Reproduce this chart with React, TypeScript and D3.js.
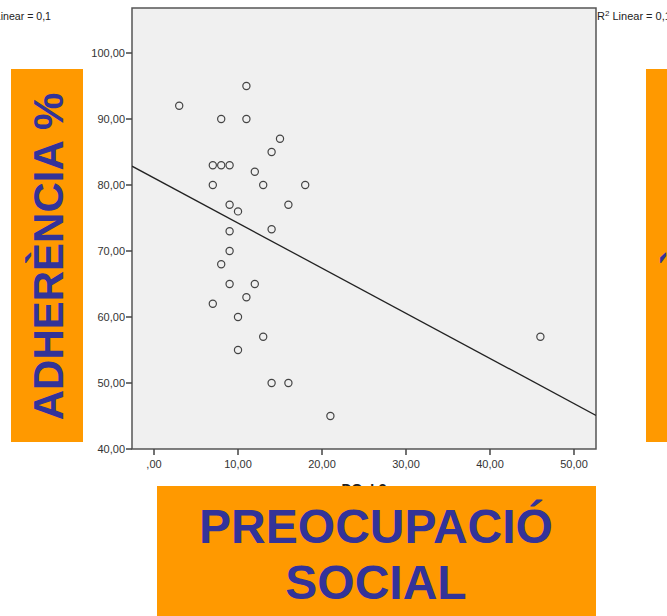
import React from "react";
import * as d3 from "d3";

// DOsL3 score vs adherence (%)
const dosl3 = [3, 11, 8, 11, 15, 14, 7, 8, 9, 12, 7, 13, 18, 16, 9, 10, 14, 9, 9, 8, 9, 12, 11, 7, 10, 13, 10, 14, 16, 21, 46];
const adherence = [92, 95, 90, 90, 87, 85, 83, 83, 83, 82, 80, 80, 80, 77, 77, 76, 73.3, 73, 70, 68, 65, 65, 63, 62, 60, 57, 55, 50, 50, 45, 57];
const xTicks = [0, 10, 20, 30, 40, 50];
const yTicks = [40, 50, 60, 70, 80, 90, 100];

const W = 667;
const H = 616;
const plot = { left: 132, right: 596, top: 8, bottom: 449 };

const fmt = (v: number) => (v === 0 ? ",00" : v.toFixed(2).replace(".", ","));

function linearFit(xs: number[], ys: number[]) {
  const mx = d3.mean(xs)!;
  const my = d3.mean(ys)!;
  let sxy = 0;
  let sxx = 0;
  xs.forEach((x, i) => {
    sxy += (x - mx) * (ys[i] - my);
    sxx += (x - mx) * (x - mx);
  });
  const slope = sxy / sxx;
  return { slope, intercept: my - slope * mx };
}

export default function App() {
  const x = d3.scaleLinear().domain([-2.62, 52.62]).range([plot.left, plot.right]);
  const y = d3.scaleLinear().domain([40, 100]).range([plot.bottom, 53]);
  const fit = linearFit(dosl3, adherence);
  const [x0, x1] = x.domain();
  const line = d3.line<number>()
    .x((d) => x(d))
    .y((d) => y(fit.intercept + fit.slope * d));

  const orange = "#ff9900";
  const blue = "#333399";
  const font = "'Liberation Sans', Arial, sans-serif";

  return (
    <svg
      width={W}
      height={H}
      style={{ position: "absolute", left: 0, top: 0, background: "#fff" }}
      fontFamily={font}
    >
      <defs>
        <clipPath id="plotClip">
          <rect x={plot.left} y={plot.top} width={plot.right - plot.left} height={plot.bottom - plot.top} />
        </clipPath>
      </defs>

      {/* R² annotations of neighbouring panels */}
      <text x={51} y={20} fontSize={10.6} textAnchor="end" fill="#222">
        R<tspan dy={-4} fontSize={8}>2</tspan>
        <tspan dy={4}> Linear = 0,1</tspan>
      </text>
      <text x={597} y={20} fontSize={11} fill="#222">
        R<tspan dy={-4} fontSize={8}>2</tspan>
        <tspan dy={4}> Linear = 0,1</tspan>
      </text>

      {/* plot panel */}
      <rect
        x={plot.left}
        y={plot.top}
        width={plot.right - plot.left}
        height={plot.bottom - plot.top}
        fill="#f0f0f0"
        stroke="#555"
        strokeWidth={1.5}
      />

      {/* y axis */}
      {yTicks.map((t) => (
        <g key={`y${t}`}>
          <line x1={plot.left - 6} x2={plot.left} y1={y(t)} y2={y(t)} stroke="#444" strokeWidth={1.5} />
          <text x={plot.left - 7} y={y(t) + 4} fontSize={11} textAnchor="end" fill="#333">
            {fmt(t)}
          </text>
        </g>
      ))}

      {/* x axis */}
      {xTicks.map((t) => (
        <g key={`x${t}`}>
          <line x1={x(t)} x2={x(t)} y1={plot.bottom} y2={plot.bottom + 6} stroke="#444" strokeWidth={1.5} />
          <text x={x(t)} y={plot.bottom + 19} fontSize={11} textAnchor="middle" fill="#333">
            {fmt(t)}
          </text>
        </g>
      ))}
      <text x={364} y={494} fontSize={14} fontWeight="bold" textAnchor="middle" fill="#222">
        DOsL3
      </text>

      {/* fit line */}
      <path d={line([x0, x1]) ?? ""} fill="none" stroke="#222" strokeWidth={1.3} clipPath="url(#plotClip)" />

      {/* points */}
      {dosl3.map((d, i) => (
        <circle key={i} cx={x(d)} cy={y(adherence[i])} r={3.6} fill="none" stroke="#444" strokeWidth={1.2} />
      ))}

      {/* labels */}
      <rect x={11} y={69} width={72} height={373} fill={orange} />
      <text
        transform={`translate(62.5,256.5) rotate(-90)`}
        fontSize={42}
        fontWeight="bold"
        textAnchor="middle"
        fill={blue}
      >
        ADHERÈNCIA %
      </text>

      <rect x={646} y={69} width={72} height={373} fill={orange} />
      <text
        transform={`translate(697.5,256.5) rotate(-90)`}
        fontSize={42}
        fontWeight="bold"
        textAnchor="middle"
        fill={blue}
      >
        ADHERÈNCIA %
      </text>

      <rect x={157} y={486} width={439} height={130} fill={orange} />
      <text x={376} y={543} fontSize={48} fontWeight="bold" textAnchor="middle" fill={blue}>
        PREOCUPACIÓ
      </text>
      <text x={376} y={599} fontSize={48} fontWeight="bold" textAnchor="middle" fill={blue}>
        SOCIAL
      </text>
    </svg>
  );
}
